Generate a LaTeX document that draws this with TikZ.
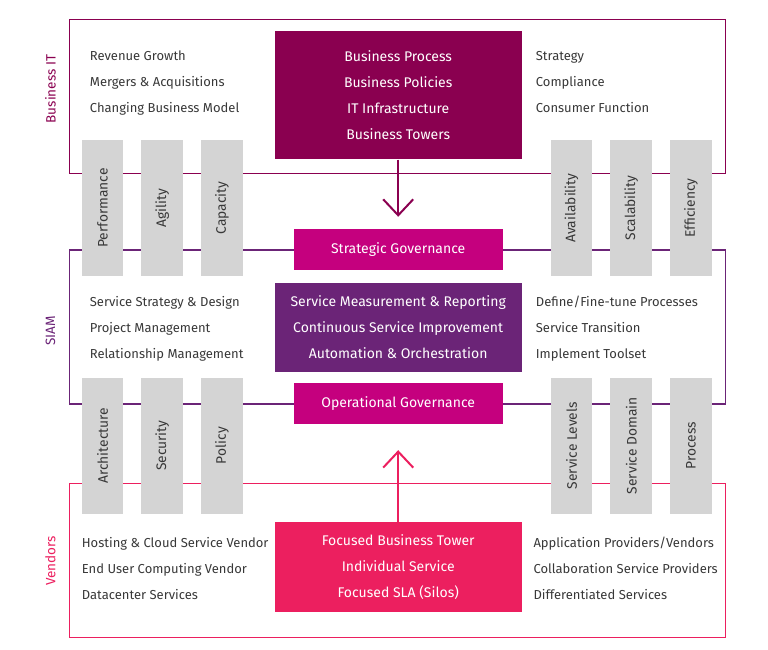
\documentclass[tikz,border=0pt]{standalone}
\usepackage{fontspec}
\setmainfont{Fira Sans}
\usetikzlibrary{positioning,arrows.meta}
\definecolor{bizred}{HTML}{8A0050}
\definecolor{govpink}{HTML}{C5007E}
\definecolor{siampurple}{HTML}{6B2477}
\definecolor{vendpink}{HTML}{EC1F5F}
\definecolor{bargray}{HTML}{D4D4D4}
\definecolor{txtgray}{HTML}{383838}

\begin{document}
\begin{tikzpicture}[x=1pt,y=-1pt,on grid,
	list/.style={anchor=base west,align=left,inner sep=0pt,text=txtgray,font=\fontsize{13}{26}\selectfont},
	bar/.style={fill=bargray,rotate=90,minimum width=136pt,minimum height=41.6pt,inner sep=0pt,text=txtgray,font=\fontsize{13.8}{15}\selectfont},
	box/.style={minimum width=247pt,align=center,text=white,font=\fontsize{14}{26}\selectfont},
	gov/.style={fill=govpink,minimum width=208.6pt,minimum height=41.5pt,text=white,font=\fontsize{14}{16}\selectfont},
	side/.style={rotate=90,font=\fontsize{13.5}{15}\selectfont},
	frame/.style={line width=1.3pt},
	flow/.style={line width=2pt,-{Straight Barb[length=16pt,width=30pt]}}]
			\useasboundingbox (0,0) rectangle (768,649);
			% layers
			\draw[frame,bizred] (69.3,19.3) rectangle (725.7,173.3);
			\draw[frame,siampurple] (69.3,250) rectangle (725.7,404);
			\draw[frame,vendpink] (69.3,483.7) rectangle (725.7,637.3);
			\node[side,text=bizred] (lbiz) at (50.5,89) {Business IT};
			\node[side,text=siampurple] (lsiam) at (50.5,331) {SIAM};
			\node[side,text=vendpink] (lvend) at (50.5,561) {Vendors};
			% pillars
			\node[bar] (perf) at (102.5,208) {Performance};
			\node[bar] (agil) at (162.2,208) {Agility};
			\node[bar] (capa) at (221.9,208) {Capacity};
			\node[bar] (avail) at (571.5,208) {Availability};
			\node[bar] (scal) at (631.2,208) {Scalability};
			\node[bar] (effi) at (690.9,208) {Efficiency};
			\node[bar] (arch) at (102.5,445.7) {Architecture};
			\node[bar] (secu) at (162.2,445.7) {Security};
			\node[bar] (poli) at (221.9,445.7) {Policy};
			\node[bar] (slev) at (571.5,445.7) {Service Levels};
			\node[bar] (sdom) at (631.2,445.7) {Service Domain};
			\node[bar] (proc) at (690.9,445.7) {Process};
			% centre column
			\node[box,fill=bizred,minimum height=128.3pt] (bizbox) at (398.2,95.2)
				{Business Process\\Business Policies\\IT Infrastructure\\Business Towers};
			\node[gov] (strat) [below=154.2pt of bizbox] {Strategic Governance};
			\node[box,fill=siampurple,minimum height=89.6pt] (siambox) [below=78.1pt of strat]
				{Service Measurement \& Reporting\\Continuous Service Improvement\\Automation \& Orchestration};
			\node[gov] (opgov) [below=76pt of siambox] {Operational Governance};
			\node[box,fill=vendpink,minimum height=90pt] (vendbox) [below=163.8pt of opgov]
				{Focused Business Tower\\Individual Service\\Focused SLA (Silos)};
			% lists (anchored at the last line)
			\node[list] (bizleft) at (89.7,112.2) {Revenue Growth\\Mergers \& Acquisitions\\Changing Business Model};
			\node[list] (bizright) at (535.7,112.2) {Strategy\\Compliance\\Consumer Function};
			\node[list] (siamleft) at (89.7,358) {Service Strategy \& Design\\Project Management\\Relationship Management};
			\node[list] (siamright) at (535.7,358) {Define/Fine-tune Processes\\Service Transition\\Implement Toolset};
			\node[list] (vendleft) at (81.7,599.8) {Hosting \& Cloud Service Vendor\\End User Computing Vendor\\Datacenter Services};
			\node[list] (vendright) at (533.3,599.8) {Application Providers/Vendors\\Collaboration Service Providers\\Differentiated Services};
			% flows
			\draw[flow,bizred,shorten >=11.7pt] (bizbox) -- (strat);
			\draw[flow,vendpink,shorten >=25.7pt] (vendbox) -- (opgov);
		\end{tikzpicture}
\end{document}
